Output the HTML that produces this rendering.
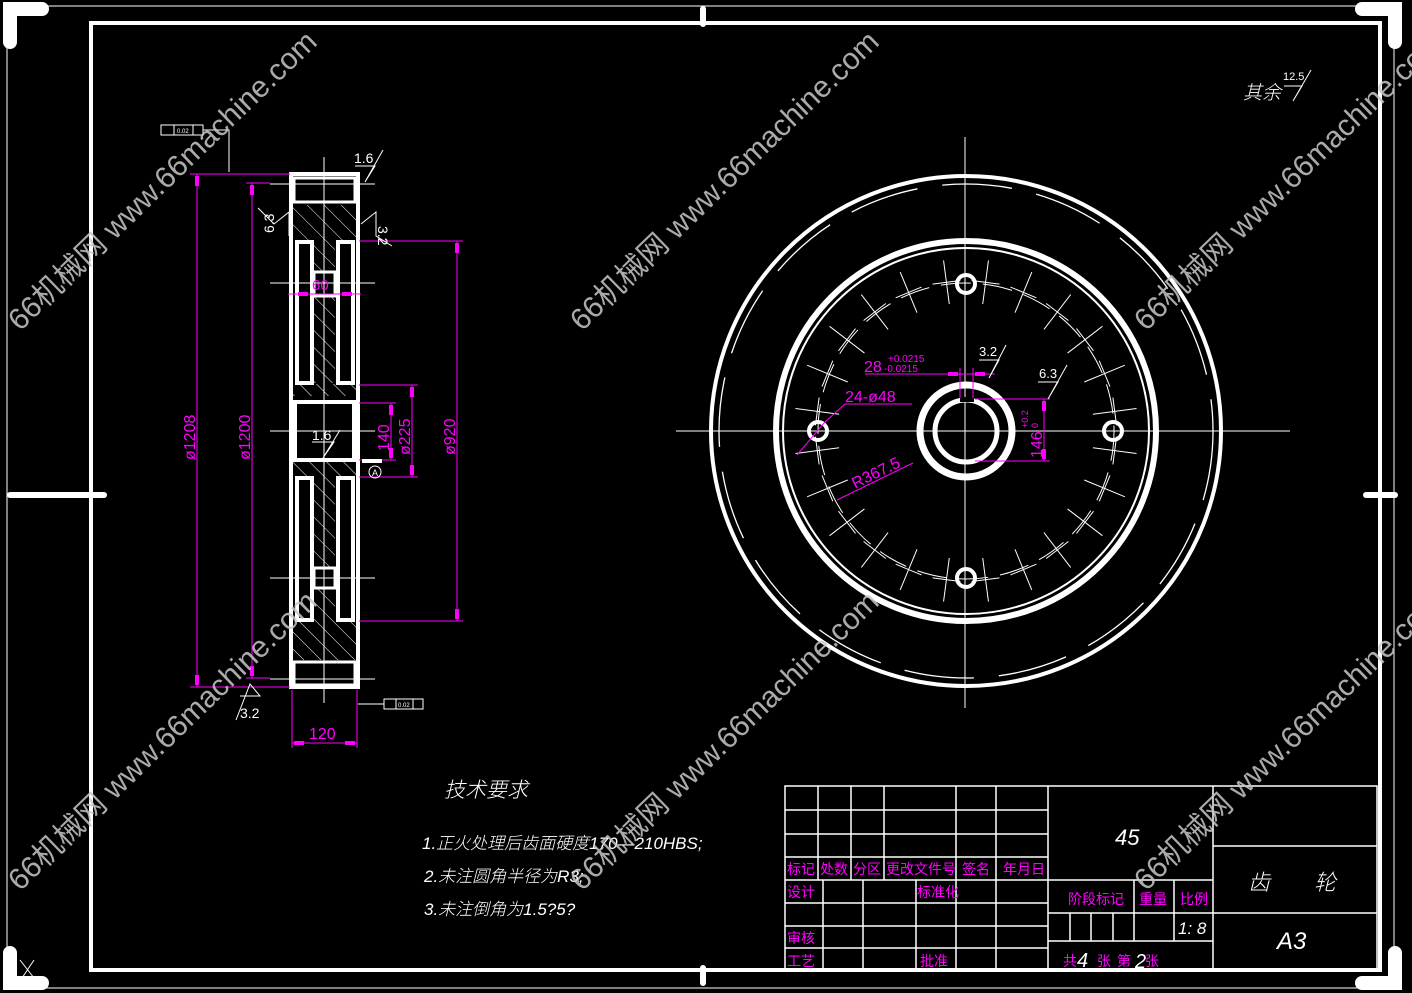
<!DOCTYPE html>
<html><head><meta charset="utf-8"><style>
html,body{margin:0;padding:0;background:#000;}
svg{display:block;}
text{font-family:"Liberation Sans","Noto Sans CJK SC",sans-serif;}
.m{fill:#ff00ff;}
.w{fill:#fff;}
.wm{fill:#c8c8c8;font-size:30px;opacity:.85;}
</style></head><body>
<svg width="1412" height="993" viewBox="0 0 1412 993" xmlns="http://www.w3.org/2000/svg">
<defs>
<pattern id="h" patternUnits="userSpaceOnUse" width="12" height="12" patternTransform="rotate(-45)">
<line x1="0" y1="0" x2="0" y2="12" stroke="#fff" stroke-width="1"/>
</pattern>
</defs>
<rect width="1412" height="993" fill="#000"/>
<rect x="7" y="6" width="1387" height="982" fill="none" stroke="#fff" stroke-width="1"/>
<g stroke="#fff" stroke-width="14" stroke-linecap="round" fill="none">
<polyline points="10,42 10,9 42,9"/>
<polyline points="1362,9 1395,9 1395,42"/>
<polyline points="10,953 10,983 42,983"/>
<polyline points="1362,983 1395,983 1395,953"/>
<line x1="703" y1="9" x2="703" y2="24" stroke-width="6"/>
<line x1="703" y1="968" x2="703" y2="983" stroke-width="6"/>
<line x1="10" y1="495" x2="104" y2="495" stroke-width="6"/>
<line x1="1366" y1="495" x2="1395" y2="495" stroke-width="6"/>
</g>
<line x1="20" y1="960" x2="34" y2="978" stroke="#fff"/><line x1="34" y1="960" x2="22" y2="978" stroke="#fff"/>
<rect x="91" y="23" width="1289" height="947" fill="none" stroke="#fff" stroke-width="4"/>

<!-- LEFT VIEW -->
<g>
<rect x="293" y="205" width="63" height="35" fill="url(#h)"/>
<rect x="313" y="240" width="22" height="143" fill="url(#h)"/>
<rect x="293" y="384" width="63" height="12" fill="url(#h)"/>
<rect x="293" y="462" width="63" height="14" fill="url(#h)"/>
<rect x="313" y="476" width="22" height="146" fill="url(#h)"/>
<rect x="293" y="622" width="63" height="38" fill="url(#h)"/>
<rect x="291" y="174" width="67" height="513" fill="none" stroke="#fff" stroke-width="4"/>
<rect x="294" y="178" width="61" height="24" fill="none" stroke="#fff" stroke-width="3"/>
<rect x="294" y="662" width="61" height="23" fill="none" stroke="#fff" stroke-width="3"/>
<g fill="#000" stroke="#fff" stroke-width="4">
<rect x="297" y="242" width="15" height="141"/>
<rect x="338" y="242" width="15" height="141"/>
<rect x="297" y="478" width="15" height="142"/>
<rect x="338" y="478" width="15" height="142"/>
<rect x="295" y="402" width="59" height="58"/>
</g>
<rect x="314" y="272" width="21" height="24" fill="#000" stroke="#fff" stroke-width="3"/>
<rect x="314" y="568" width="21" height="20" fill="#000" stroke="#fff" stroke-width="3"/>
<g stroke="#fff" stroke-width="1">
<line x1="324" y1="157" x2="324" y2="703"/>
<line x1="270" y1="184" x2="375" y2="184"/>
<line x1="270" y1="283" x2="375" y2="283"/>
<line x1="270" y1="431" x2="375" y2="431"/>
<line x1="270" y1="578" x2="375" y2="578"/>
<line x1="270" y1="679" x2="375" y2="679"/>
</g>
<g stroke="#ff00ff" stroke-width="1" fill="none">
<line x1="190" y1="174" x2="290" y2="174"/>
<line x1="190" y1="687" x2="290" y2="687"/>
<line x1="197" y1="174" x2="197" y2="687"/>
<line x1="246" y1="183" x2="270" y2="183"/>
<line x1="246" y1="678" x2="270" y2="678"/>
<line x1="252" y1="183" x2="252" y2="678"/>
<line x1="359" y1="241" x2="463" y2="241"/>
<line x1="359" y1="621" x2="463" y2="621"/>
<line x1="457" y1="241" x2="457" y2="621"/>
<line x1="359" y1="385" x2="418" y2="385"/>
<line x1="359" y1="477" x2="418" y2="477"/>
<line x1="412" y1="385" x2="412" y2="477"/>
<line x1="359" y1="403" x2="396" y2="403"/>
<line x1="359" y1="460" x2="396" y2="460"/>
<line x1="391" y1="403" x2="391" y2="460"/>
<line x1="288" y1="294" x2="361" y2="294"/>
<line x1="292" y1="690" x2="292" y2="748"/>
<line x1="357" y1="690" x2="357" y2="748"/>
<line x1="292" y1="743" x2="357" y2="743"/>
</g>
<g fill="#ff00ff">
<rect x="195" y="176" width="4" height="10"/><rect x="195" y="675" width="4" height="10"/>
<rect x="250" y="185" width="4" height="10"/><rect x="250" y="666" width="4" height="10"/>
<rect x="455" y="243" width="4" height="10"/><rect x="455" y="609" width="4" height="10"/>
<rect x="410" y="387" width="4" height="10"/><rect x="410" y="465" width="4" height="10"/>
<rect x="389" y="405" width="4" height="10"/><rect x="389" y="448" width="4" height="10"/>
<rect x="298" y="292" width="10" height="4"/><rect x="342" y="292" width="10" height="4"/>
<rect x="294" y="741" width="10" height="4"/><rect x="345" y="741" width="10" height="4"/>
</g>
<text class="m" font-size="16" transform="translate(195,460) rotate(-90)">ø1208</text>
<text class="m" font-size="16" transform="translate(250,460) rotate(-90)">ø1200</text>
<text class="m" font-size="16" transform="translate(455,455) rotate(-90)">ø920</text>
<text class="m" font-size="16" transform="translate(410,455) rotate(-90)">ø225</text>
<text class="m" font-size="16" transform="translate(389,451) rotate(-90)">140</text>
<text class="m" font-size="15" x="312" y="290">60</text>
<text class="m" font-size="16" x="309" y="739">120</text>
<g stroke="#fff" stroke-width="1" fill="none">
<polyline points="355,166 375,166 365,182 383,150"/>
<polyline points="289,236 289,212 274,224 258,208"/>
<polyline points="361,224 376,212 376,236 392,246"/>
<polyline points="312,442 334,442 323,458 340,430"/>
<polyline points="240,696 260,696 250,684 236,720"/>
<line x1="362" y1="461" x2="382" y2="461" stroke-width="4"/>
<circle cx="375" cy="472" r="6"/>
<rect x="161" y="125" width="42" height="10"/><line x1="174" y1="125" x2="174" y2="135"/><line x1="193" y1="125" x2="193" y2="135"/>
<polyline points="203,130 229,130 229,172"/>
<rect x="384" y="699" width="39" height="10"/><line x1="396" y1="699" x2="396" y2="709"/><line x1="413" y1="699" x2="413" y2="709"/>
<line x1="358" y1="704" x2="384" y2="704"/>
</g>
<text class="w" font-size="14" x="354" y="163">1.6</text>
<text class="w" font-size="14" transform="translate(274,233) rotate(-90)">6.3</text>
<text class="w" font-size="14" transform="translate(378,226) rotate(90)">3.2</text>
<text class="w" font-size="14" x="312" y="440">1.6</text>
<text class="w" font-size="14" x="240" y="718">3.2</text>
<text class="w" font-size="9" x="372" y="476">A</text>
<text class="w" font-size="6" x="177" y="133">0.02</text>
<text class="w" font-size="6" x="398" y="707">0.02</text>
</g>

<!-- RIGHT VIEW -->
<g fill="none" stroke="#fff">
<line x1="965" y1="137" x2="965" y2="708" stroke-width="1"/>
<line x1="676" y1="431" x2="1290" y2="431" stroke-width="1"/>
<circle cx="966" cy="431" r="255" stroke-width="4"/>
<circle cx="966" cy="431" r="247" stroke-width="1.3" stroke-dasharray="70 25"/>
<circle cx="966" cy="431" r="190" stroke-width="6"/>
<circle cx="966" cy="431" r="183" stroke-width="2"/>
<circle cx="966" cy="431" r="148" stroke-width="1" stroke-dasharray="30 12"/>
<circle cx="966" cy="431" r="46" stroke-width="7"/>
<circle cx="966" cy="431" r="31" stroke-width="5"/>
<g stroke-width="4">
<circle cx="966" cy="284" r="9"/><circle cx="966" cy="578" r="9"/>
<circle cx="818" cy="431" r="9"/><circle cx="1113" cy="431" r="9"/>
</g>
<g id="ticks" stroke-width="1"></g>
</g>
<rect x="960" y="397" width="14" height="5" fill="#000"/>
<g stroke="#ff00ff" stroke-width="1" fill="none">
<line x1="865" y1="374" x2="995" y2="374"/>
<line x1="960" y1="368" x2="960" y2="398"/>
<line x1="973" y1="368" x2="973" y2="398"/>
<polyline points="912,404 845,404 825,422 797,455"/>
<line x1="975" y1="399" x2="1050" y2="399"/>
<line x1="975" y1="461" x2="1050" y2="461"/>
<line x1="1044" y1="399" x2="1044" y2="461"/>
<line x1="837" y1="500" x2="913" y2="463"/>
</g>
<g fill="#ff00ff">
<rect x="948" y="372" width="10" height="4"/><rect x="975" y="372" width="10" height="4"/>
<rect x="1042" y="401" width="4" height="10"/><rect x="1042" y="449" width="4" height="10"/>
</g>
<text class="m" font-size="16" x="864" y="372">28</text>
<text class="m" font-size="10" x="888" y="362">+0.0215</text>
<text class="m" font-size="10" x="884" y="372">-0.0215</text>
<text class="m" font-size="16" x="845" y="402">24-ø48</text>
<text class="m" font-size="16" transform="translate(855,489) rotate(-26)">R367.5</text>
<text class="m" font-size="16" transform="translate(1042,458) rotate(-90)">146</text>
<text class="m" font-size="9" transform="translate(1028,428) rotate(-90)">+0.2</text>
<text class="m" font-size="9" transform="translate(1038,428) rotate(-90)">0</text>
<g stroke="#fff" stroke-width="1" fill="none">
<polyline points="979,360 999,360 989,378 1006,345"/>
<polyline points="1038,382 1058,382 1048,399 1067,365"/>
</g>
<text class="w" font-size="13" x="979" y="356">3.2</text>
<text class="w" font-size="13" x="1039" y="378">6.3</text>

<g font-style="italic" font-weight="300">
<text class="w" font-size="21" x="444" y="797">技术要求</text>
<text class="w" font-size="17" x="422" y="849">1.正火处理后齿面硬度170—210HBS;</text>
<text class="w" font-size="17" x="424" y="882">2.未注圆角半径为R3;</text>
<text class="w" font-size="17" x="424" y="915">3.未注倒角为1.5?5?</text>
<text class="w" font-size="19" x="1243" y="99">其余</text>
</g>
<polyline points="1284,86 1302,86 1293,101 1311,70" stroke="#fff" fill="none"/>
<text class="w" font-size="11" x="1283" y="80">12.5</text>

<!-- TITLE BLOCK -->
<g stroke="#fff" stroke-width="1.5" fill="none">
<rect x="785" y="786" width="592" height="184"/>
<line x1="785" y1="810" x2="1048" y2="810"/>
<line x1="785" y1="834" x2="1048" y2="834"/>
<line x1="785" y1="857" x2="1048" y2="857"/>
<line x1="785" y1="880" x2="1213" y2="880"/>
<line x1="785" y1="903" x2="1048" y2="903"/>
<line x1="785" y1="926" x2="1048" y2="926"/>
<line x1="785" y1="948" x2="1048" y2="948"/>
<line x1="818" y1="786" x2="818" y2="880"/>
<line x1="851" y1="786" x2="851" y2="880"/>
<line x1="884" y1="786" x2="884" y2="880"/>
<line x1="956" y1="786" x2="956" y2="970"/>
<line x1="996" y1="786" x2="996" y2="970"/>
<line x1="823" y1="880" x2="823" y2="970"/>
<line x1="863" y1="880" x2="863" y2="970"/>
<line x1="916" y1="880" x2="916" y2="970"/>
<line x1="1048" y1="786" x2="1048" y2="970"/>
<line x1="1213" y1="786" x2="1213" y2="970"/>
<line x1="1048" y1="913" x2="1213" y2="913"/>
<line x1="1048" y1="941" x2="1213" y2="941"/>
<line x1="1070" y1="913" x2="1070" y2="941"/>
<line x1="1091" y1="913" x2="1091" y2="941"/>
<line x1="1113" y1="913" x2="1113" y2="941"/>
<line x1="1134" y1="880" x2="1134" y2="941"/>
<line x1="1174" y1="880" x2="1174" y2="941"/>
<line x1="1213" y1="846" x2="1377" y2="846"/>
<line x1="1213" y1="913" x2="1377" y2="913"/>
</g>
<g font-size="14">
<text class="m" x="787" y="874">标记</text>
<text class="m" x="820" y="874">处数</text>
<text class="m" x="853" y="874">分区</text>
<text class="m" x="886" y="874">更改文件号</text>
<text class="m" x="962" y="874">签名</text>
<text class="m" x="1003" y="874">年月日</text>
<text class="m" x="787" y="897">设计</text>
<text class="m" x="917" y="897">标准化</text>
<text class="m" x="787" y="943">审核</text>
<text class="m" x="787" y="966">工艺</text>
<text class="m" x="920" y="966">批准</text>
<text class="m" x="1068" y="904">阶段标记</text>
<text class="m" x="1139" y="904">重量</text>
<text class="m" x="1180" y="904">比例</text>
<text class="m" x="1063" y="966">共</text>
<text class="m" x="1097" y="966">张</text>
<text class="m" x="1117" y="966">第</text>
<text class="m" x="1145" y="966">张</text>
</g>
<g font-style="italic" font-weight="300">
<text class="w" font-size="22" x="1115" y="845">45</text>
<text class="w" font-size="17" x="1178" y="934">1: 8</text>
<text class="w" font-size="24" x="1277" y="949">A3</text>
<text class="w" font-size="20" x="1077" y="967">4</text>
<text class="w" font-size="20" x="1135" y="968">2</text>
<text class="w" font-size="22" x="1248" y="890">齿</text>
<text class="w" font-size="22" x="1314" y="890">轮</text>
</g>

<g>
<text class="wm" transform="translate(20,332) rotate(-44)">66机械网 www.66machine.com</text>
<text class="wm" transform="translate(582,332) rotate(-44)">66机械网 www.66machine.com</text>
<text class="wm" transform="translate(1146,332) rotate(-44)">66机械网 www.66machine.com</text>
<text class="wm" transform="translate(20,892) rotate(-44)">66机械网 www.66machine.com</text>
<text class="wm" transform="translate(582,892) rotate(-44)">66机械网 www.66machine.com</text>
<text class="wm" transform="translate(1146,892) rotate(-44)">66机械网 www.66machine.com</text>
</g>
</svg>
<script>
(function(){
var g=document.getElementById('ticks'),cx=966,cy=431,ns='http://www.w3.org/2000/svg';
for(var k=0;k<24;k++){
 var a=(k*15+7.5)*Math.PI/180;
 var c=Math.cos(a),s=Math.sin(a);
 var l=document.createElementNS(ns,'line');
 l.setAttribute('x1',cx+c*128);l.setAttribute('y1',cy+s*128);
 l.setAttribute('x2',cx+c*172);l.setAttribute('y2',cy+s*172);
 g.appendChild(l);
 var px=cx+c*150,py=cy+s*150,t=document.createElementNS(ns,'line');
 t.setAttribute('x1',px-s*14);t.setAttribute('y1',py+c*14);
 t.setAttribute('x2',px+s*14);t.setAttribute('y2',py-c*14);
 g.appendChild(t);
}
})();
</script>
</body></html>
